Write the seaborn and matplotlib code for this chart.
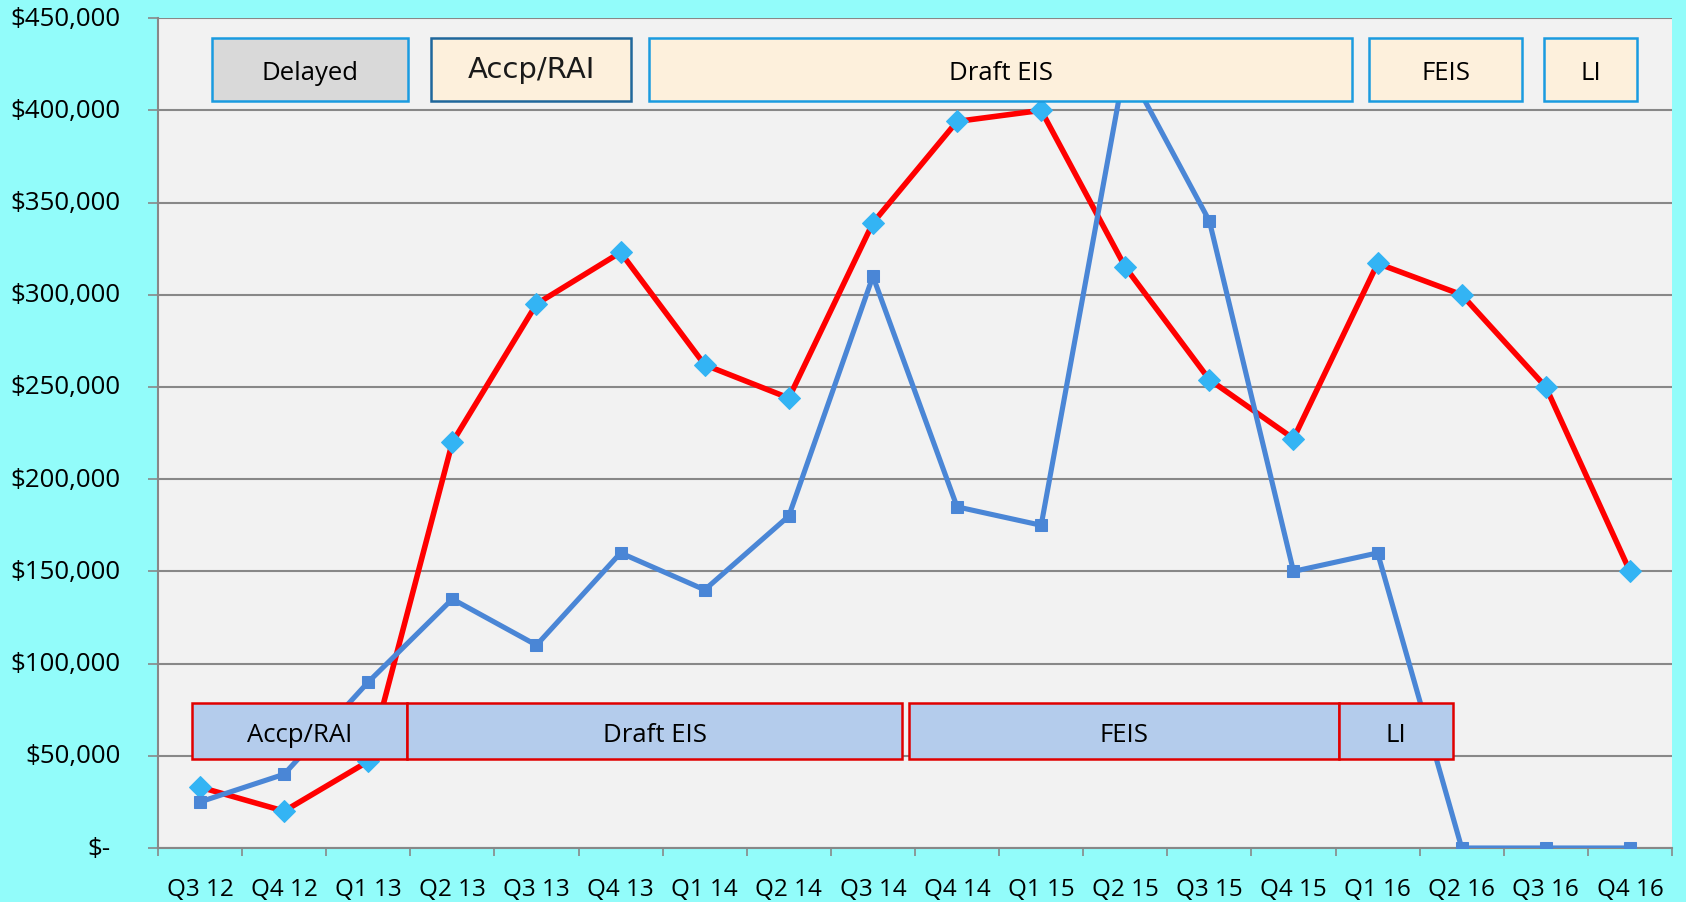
import matplotlib
matplotlib.use("Agg")
import matplotlib.pyplot as plt
import matplotlib.transforms as mtransforms
import seaborn as sns
import pandas as pd
from matplotlib.patches import Rectangle
from matplotlib.ticker import FuncFormatter, FixedLocator

# ---- data ----
quarters = ["Q3 12", "Q4 12", "Q1 13", "Q2 13", "Q3 13", "Q4 13", "Q1 14", "Q2 14", "Q3 14",
            "Q4 14", "Q1 15", "Q2 15", "Q3 15", "Q4 15", "Q1 16", "Q2 16", "Q3 16", "Q4 16"]
red_values = [33000, 20000, 47000, 220000, 295000, 323000, 262000, 244000, 339000,
              394000, 400000, 315000, 254000, 222000, 317000, 300000, 250000, 150000]
blue_values = [25000, 40000, 90000, 135000, 110000, 160000, 140000, 180000, 310000,
               185000, 175000, 425000, 340000, 150000, 160000, 0, 0, 0]
y_ticks = [0, 50000, 100000, 150000, 200000, 250000, 300000, 350000, 400000, 450000]

# phase annotations (label, start, end in category units)
top_phases = [("Delayed", 0.14, 2.47), ("Accp/RAI", 2.75, 5.12), ("Draft EIS", 5.34, 13.70),
              ("FEIS", 13.90, 15.72), ("LI", 15.98, 17.08)]
bottom_phases = [("Accp/RAI", -0.10, 2.46), ("Draft EIS", 2.46, 8.35),
                 ("FEIS", 8.43, 13.54), ("LI", 13.54, 14.90)]

df = pd.DataFrame({"idx": range(len(quarters)), "red": red_values, "blue": blue_values})

sns.set_theme(style="white")
plt.rcParams["font.family"] = ["Open Sans", "DejaVu Sans"]

BG = "#92FCFA"
fig = plt.figure(figsize=(16.86, 9.03), dpi=100, facecolor=BG)
ax = fig.add_axes([0.0937, 0.0598, 0.898, 0.919])
ax.set_facecolor("#F2F2F2")

sns.lineplot(data=df, x="idx", y="red", ax=ax, color="#FF0000", linewidth=4.0,
             marker="D", markersize=11.5, markerfacecolor="#33B4F4", markeredgecolor="#33B4F4",
             zorder=3)
sns.lineplot(data=df, x="idx", y="blue", ax=ax, color="#4A86D6", linewidth=3.7,
             marker="s", markersize=9, markerfacecolor="#4A86D6", markeredgecolor="#4A86D6",
             zorder=4)

ax.set_xlim(-0.5, len(quarters) - 0.5)
ax.set_ylim(0, 450000)

# y axis (labels drawn as text for exact accounting-style alignment)
ax.set_yticks(y_ticks)
ax.yaxis.set_major_formatter(FuncFormatter(lambda v, p: ""))
ax.grid(axis="y", color="#888888", linewidth=1.5, zorder=0)
ax.set_axisbelow(True)
ytrans = ax.get_yaxis_transform()
for v in y_ticks:
    label = "$-" if v == 0 else f"${v:,.0f}"
    dx = -47 if v == 0 else -37
    off = mtransforms.ScaledTranslation(dx / 100, 0, fig.dpi_scale_trans)
    ax.text(0, v, label, transform=ytrans + off, ha="right", va="center",
            fontsize=18.6, color="black", clip_on=False)

# x axis: ticks between categories, labels at centers
ax.xaxis.set_major_locator(FixedLocator([i - 0.5 for i in range(len(quarters) + 1)]))
ax.xaxis.set_major_formatter(FuncFormatter(lambda v, p: ""))
ax.xaxis.set_minor_locator(FixedLocator(list(range(len(quarters)))))
ax.set_xticklabels(quarters, minor=True)

ax.tick_params(axis="x", which="major", length=6, width=1.2, color="#888888", direction="out")
ax.tick_params(axis="x", which="minor", length=0, pad=21, labelsize=17.5, labelcolor="black")
ax.tick_params(axis="y", which="major", length=7, width=1.2, color="#888888", direction="out")
ax.tick_params(bottom=True, left=True, which="both")

for s in ["top", "right"]:
    ax.spines[s].set_visible(False)
for s in ["left", "bottom"]:
    ax.spines[s].set_color("#888888")
    ax.spines[s].set_linewidth(1.5)

ax.set_xlabel("")
ax.set_ylabel("")

# top phase boxes
for label, x0, x1 in top_phases:
    if label == "Delayed":
        fc, ec = "#D9D9D9", "#1A9BE0"
    elif label == "Accp/RAI":
        fc, ec = "#FDF0DC", "#1F679C"
    else:
        fc, ec = "#FDF0DC", "#1A9BE0"
    ax.add_patch(Rectangle((x0, 405000), x1 - x0, 34000, facecolor=fc, edgecolor=ec,
                           linewidth=1.8, zorder=6, clip_on=False))
    if label == "Accp/RAI":
        ax.text((x0 + x1) / 2, 422500, label, ha="center", va="center", fontsize=21,
                family=["DejaVu Sans"], color="#1A1A1A", zorder=7)
    else:
        ax.text((x0 + x1) / 2, 420300, label, ha="center", va="center", fontsize=18.5,
                color="black", zorder=7)

# bottom phase boxes
for label, x0, x1 in bottom_phases:
    ax.add_patch(Rectangle((x0, 48500), x1 - x0, 30000, facecolor="#B4CCEC", edgecolor="#E00000",
                           linewidth=1.8, zorder=6, clip_on=False))
    ax.text((x0 + x1) / 2, 61800, label, ha="center", va="center", fontsize=18.5,
            color="black", zorder=7)

fig.savefig("out.png", dpi=100, facecolor=BG)
